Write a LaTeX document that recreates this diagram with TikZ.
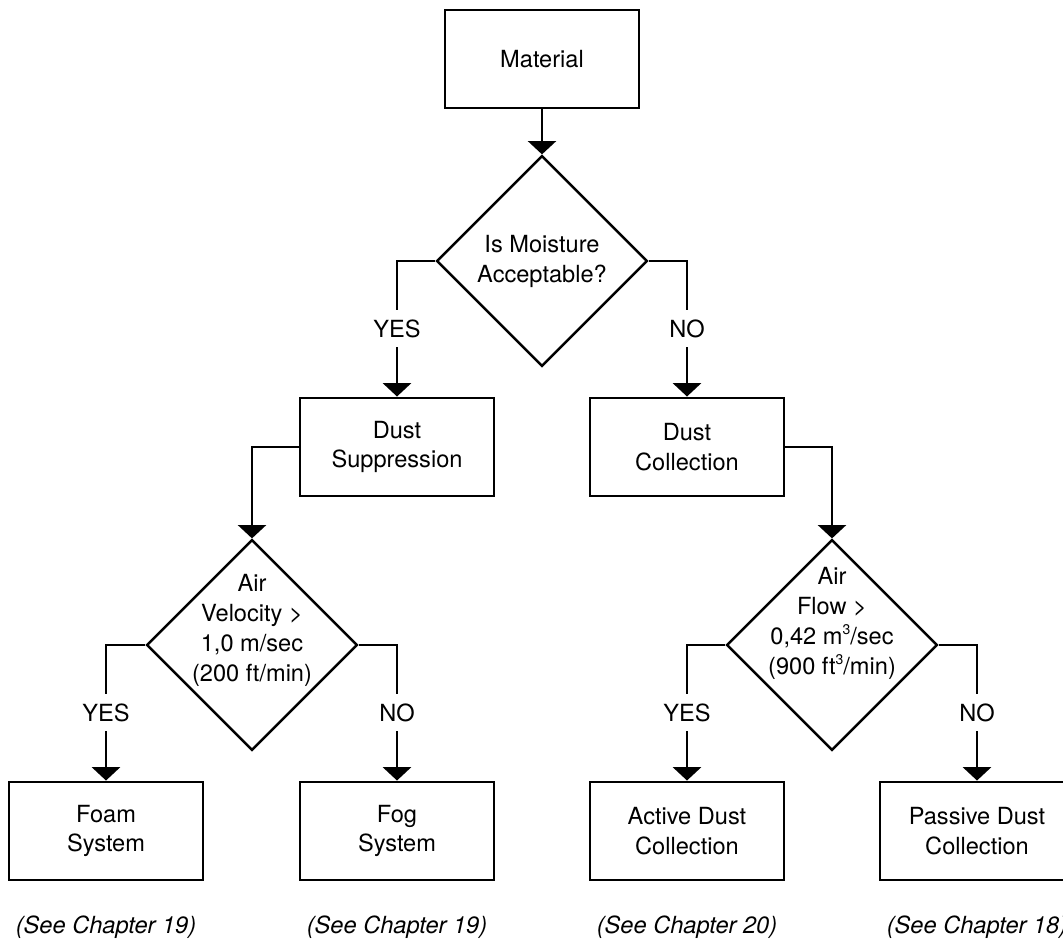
\documentclass[tikz,border=0pt]{standalone}
\usepackage{fontspec}
\setmainfont{TeX Gyre Heros}
\usepackage{tikz}
\usetikzlibrary{arrows.meta,shapes.geometric,calc}
\newcommand\flowfont{\fontsize{17.7pt}{22.4pt}\selectfont}
\newcommand\cubed{\raisebox{.42em}{\fontsize{10.5pt}{10.5pt}\selectfont 3}}
\tikzset{
  >={Triangle[width=21pt,length=10pt]},
  block/.style={draw,line width=2.2pt,minimum width=145.5pt,minimum height=73.5pt,align=center,font=\flowfont},
  decide/.style={diamond,draw,line width=1.9pt,minimum width=158pt,minimum height=158pt,inner sep=0pt},
  qtext/.style={align=center,font=\flowfont,inner sep=0pt},
  flow/.style={->,line width=1.9pt},
  ans/.style={fill=white,inner xsep=2pt,inner ysep=7pt,font=\flowfont},
  seeref/.style={font=\flowfont\itshape}
}
\begin{document}
\begin{tikzpicture}[x=.75pt,y=-.75pt]
        \useasboundingbox (0,0) rectangle (1063,944);

        \node[block] (mat) at (542,59) {Material};
        \node[decide] (q1) at (542,261) {};
        \node[qtext] (q1t) at ([yshift=-.5pt]q1.center) {Is Moisture\\Acceptable?};

        \node[block] (supp) at (397,447) {Dust\\Suppression};
        \node[block] (coll) at (687,447) {Dust\\Collection};

        \node[decide] (q2) at (252,645) {};
        \node[qtext] (q2t) at ([yshift=11pt]q2.center) {Air\\Velocity >\\1,0 m/sec\\(200 ft/min)};
        \node[decide] (q3) at (832,645) {};
        \node[qtext] (q3t) at ([yshift=16pt]q3.center) {Air\\Flow >\\0,42 m\cubed/sec\\(900 ft\cubed/min)};

        \node[block] (foam) at (106,831) {Foam\\System};
        \node[block] (fog) at (397,831) {Fog\\System};
        \node[block] (active) at (687,831) {Active Dust\\Collection};
        \node[block] (passive) at (977,831) {Passive Dust\\Collection};

        \node[seeref] (foamref) at (106,927) {(See Chapter 19)};
        \node[seeref] (fogref) at (397,927) {(See Chapter 19)};
        \node[seeref] (activeref) at (687,927) {(See Chapter 20)};
        \node[seeref] (passiveref) at (977,927) {(See Chapter 18)};

        \draw[flow] (mat)--(q1);
        \draw[flow] (q1.west) -| node[ans,pos=.75] {YES} (supp);
        \draw[flow] (q1.east) -| node[ans,pos=.75] {NO} (coll);
        \draw[flow] (supp.west) -| (q2);
        \draw[flow] (coll.east) -| (q3);
        \draw[flow] (q2.west) -| node[ans,pos=.75] {YES} (foam);
        \draw[flow] (q2.east) -| node[ans,pos=.75] {NO} (fog);
        \draw[flow] (q3.west) -| node[ans,pos=.75] {YES} (active);
        \draw[flow] (q3.east) -| node[ans,pos=.75] {NO} (passive);
      \end{tikzpicture}
\end{document}
